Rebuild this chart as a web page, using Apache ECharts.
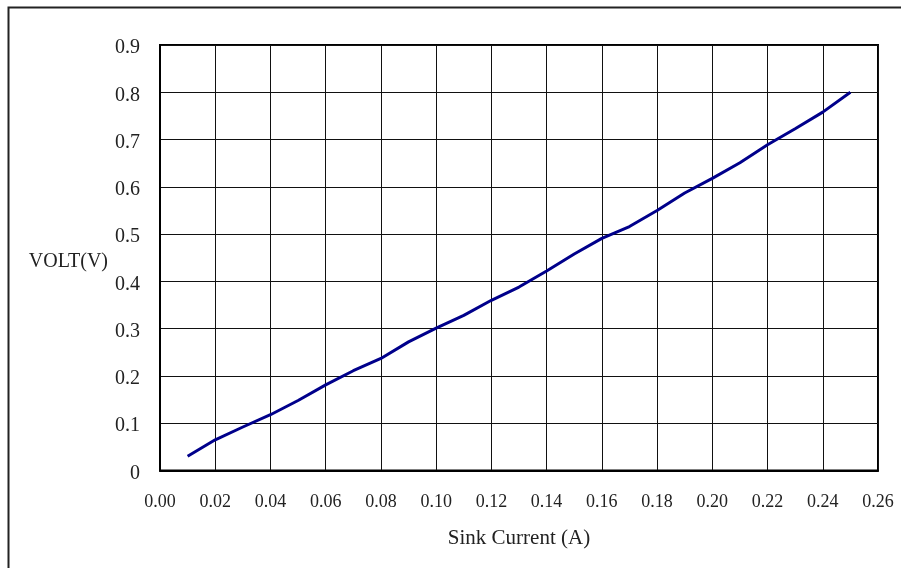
<!DOCTYPE html>
<html>
<head>
<meta charset="utf-8">
<script src="https://cdn.jsdelivr.net/npm/echarts@6/dist/echarts.min.js"></script>
<style>
html,body{margin:0;padding:0;background:#fff;}
#c{width:901px;height:568px;}
</style>
</head>
<body>
<div id="c"></div>
<script>
const current = [0.01,0.02,0.03,0.04,0.05,0.06,0.07,0.08,0.09,0.10,0.11,0.12,0.13,0.14,0.15,0.16,0.17,0.18,0.19,0.20,0.21,0.22,0.23,0.24,0.25];
const volt = [0.030,0.065,0.092,0.118,0.148,0.181,0.211,0.237,0.272,0.301,0.328,0.360,0.388,0.422,0.458,0.491,0.516,0.550,0.587,0.618,0.651,0.689,0.723,0.758,0.800];
const xName = 'Sink Current (A)';
const yName = 'VOLT(V)';

const chart = echarts.init(document.getElementById('c'), null, {renderer:'canvas'});
const font = 'Liberation Serif';
chart.setOption({
  animation:false,
  backgroundColor:'#fff',
  graphic:[{
    type:'rect', silent:true,
    shape:{x:8.5,y:7.5,width:1200,height:1000},
    style:{fill:null,stroke:'#222',lineWidth:2}
  }],
  grid:{left:160,right:23,top:45,bottom:97.5,show:true,borderColor:'#000',borderWidth:2,backgroundColor:'transparent'},
  xAxis:{
    type:'value',min:0,max:0.26,interval:0.02,
    name:xName,nameLocation:'middle',nameGap:57,
    nameTextStyle:{fontFamily:font,fontSize:21,color:'#222'},
    axisLine:{show:true,lineStyle:{color:'#000',width:2}},
    axisTick:{show:false},
    axisLabel:{margin:23,fontFamily:font,fontSize:18,color:'#222',formatter:v=>v.toFixed(2)},
    splitLine:{show:true,lineStyle:{color:'#111',width:1}}
  },
  yAxis:{
    type:'value',min:0,max:0.9,interval:0.1,
    name:yName,nameLocation:'middle',nameRotate:0,nameGap:52,
    nameTextStyle:{fontFamily:font,fontSize:20,color:'#222',verticalAlign:'top',lineHeight:8},
    axisLine:{show:true,lineStyle:{color:'#000',width:2}},
    axisTick:{show:false},
    axisLabel:{margin:20,fontFamily:font,fontSize:20,color:'#222',verticalAlign:'top',lineHeight:6,formatter:v=>v===0?'0':v.toFixed(1)},
    splitLine:{show:true,lineStyle:{color:'#111',width:1}}
  },
  series:[{
    type:'line',
    data:current.map((x,i)=>[x,volt[i]]),
    showSymbol:false,
    lineStyle:{color:'#00008b',width:3},
    itemStyle:{color:'#00008b'}
  }]
});
</script>
</body>
</html>
